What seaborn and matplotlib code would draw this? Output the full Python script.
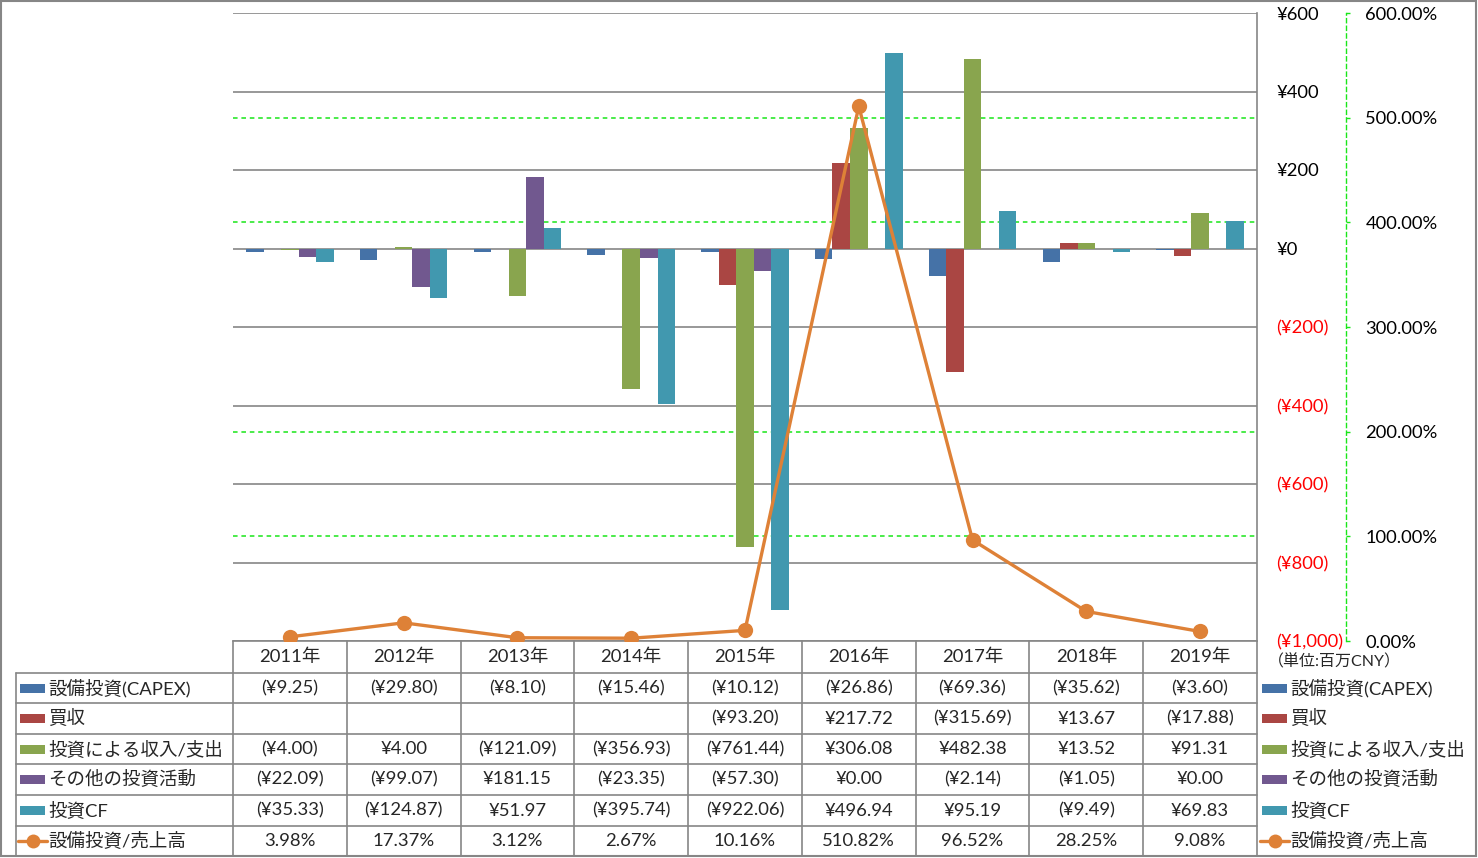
import numpy as np
import pandas as pd
import matplotlib
matplotlib.use("Agg")
import matplotlib.pyplot as plt
import matplotlib.transforms as mtrans
from matplotlib.patches import Rectangle
from matplotlib.lines import Line2D
import seaborn as sns

# ---------------- data ----------------
years = ["2011年", "2012年", "2013年", "2014年", "2015年", "2016年", "2017年", "2018年", "2019年"]
capex = [-9.25, -29.80, -8.10, -15.46, -10.12, -26.86, -69.36, -35.62, -3.60]
acquisition = [np.nan, np.nan, np.nan, np.nan, -93.20, 217.72, -315.69, 13.67, -17.88]
invest_income = [-4.00, 4.00, -121.09, -356.93, -761.44, 306.08, 482.38, 13.52, 91.31]
other_invest = [-22.09, -99.07, 181.15, -23.35, -57.30, 0.00, -2.14, -1.05, 0.00]
invest_cf = [-35.33, -124.87, 51.97, -395.74, -922.06, 496.94, 95.19, -9.49, 69.83]
capex_ratio = [3.98, 17.37, 3.12, 2.67, 10.16, 510.82, 96.52, 28.25, 9.08]

series_names = ["設備投資(CAPEX)", "買収", "投資による収入/支出", "その他の投資活動", "投資CF"]
line_name = "設備投資/売上高"
unit_label = "（単位:百万CNY）"
yen_ticks = [600, 400, 200, 0, -200, -400, -600, -800, -1000]
pct_ticks = [0, 100, 200, 300, 400, 500, 600]
pct_grid = [100, 200, 400, 500]   # 300% / 600% fall on primary gridlines

colors = ["#4572A7", "#AA4643", "#89A54E", "#71588F", "#4198AF"]
orange = "#DE8137"
grid_gray = "#868686"
green = "#19E619"

# ---------------- style ----------------
sns.set_style("white")
plt.rcParams["font.family"] = ["Lato", "Noto Sans CJK JP", "DejaVu Sans"]
FS = 13.3
FS_TICK = 13.2

W, H = 1478, 858
fig = plt.figure(figsize=(W / 100, H / 100), dpi=100)


def fx(px):
    return px / W


def fy(py):
    return 1 - py / H


ax = fig.add_axes([fx(233), fy(641), fx(1257) - fx(233), fy(13) - fy(641)])
ax2 = ax.twinx()

# bars
all_series = [capex, acquisition, invest_income, other_invest, invest_cf]
records = []
for name, vals in zip(series_names, all_series):
    for yr, v in zip(years, vals):
        records.append((yr, name, v))
df = pd.DataFrame(records, columns=["year", "series", "value"])

sns.barplot(data=df, x="year", y="value", hue="series", order=years,
            hue_order=series_names, palette=colors, width=0.77, gap=0,
            saturation=1, errorbar=None, legend=False, ax=ax,
            linewidth=0, zorder=2)

# line on secondary axis
sns.pointplot(x=years, y=capex_ratio, order=years, ax=ax2, color=orange,
              markers="o", markersize=11, linewidth=2.4, errorbar=None)
for ln in ax2.lines:
    ln.set_markeredgewidth(0)
    ln.set_zorder(3)

ax.set_xlim(-0.5, len(years) - 0.5)
ax2.set_xlim(-0.5, len(years) - 0.5)

# primary axis
ax.set_ylim(-1000, 600)
ax.set_yticks(yen_ticks)
ax.set_yticklabels([f"¥{v:,}" if v >= 0 else f"(¥{abs(v):,})" for v in yen_ticks])
ax.yaxis.tick_right()
ax.tick_params(axis="y", length=0, pad=14, labelsize=FS_TICK)
for lbl, v in zip(ax.get_yticklabels(), yen_ticks):
    lbl.set_color("red" if v < 0 else "black")
    lbl.set_ha("left")
ax.set_xticks(range(len(years)))
ax.tick_params(axis="x", length=0, labelbottom=False)
ax.set_xlabel("")
ax.set_ylabel("")
ax.grid(axis="y", color=grid_gray, lw=1.2, ls="-")
ax.grid(axis="x", visible=False)
ax.set_axisbelow(True)
for s in ["left", "top"]:
    ax.spines[s].set_visible(False)
for s in ["right", "bottom"]:
    ax.spines[s].set_color(grid_gray)
    ax.spines[s].set_linewidth(1.2)

# secondary axis
ax2.set_ylim(0, 600)
ax2.set_yticks(pct_ticks)
ax2.set_yticklabels([f"{v:.2f}%" for v in pct_ticks])
ax2.tick_params(axis="y", length=3, width=1, color=green, direction="out",
                pad=11, labelsize=FS_TICK, labelcolor="black")
ax2.set_xlabel("")
ax2.set_ylabel("")
ax2.grid(False)
for s in ["left", "top", "bottom"]:
    ax2.spines[s].set_visible(False)
ax2.spines["right"].set_position(("outward", 64))
ax2.spines["right"].set_color(green)
ax2.spines["right"].set_linestyle((0, (3, 2.5)))
ax2.spines["right"].set_linewidth(1)

# secondary gridlines drawn behind bars
trans_g = mtrans.blended_transform_factory(ax.transAxes, ax2.transData)
for v in pct_grid:
    ax.add_line(Line2D([0, 1], [v, v], transform=trans_g, color=green,
                       lw=1.1, ls=(0, (3, 2.5)), zorder=0.4))

# ---------------- data table ----------------
row_edges = [641, 673, 703, 734, 764, 795, 826, 856]
tr = mtrans.blended_transform_factory(ax.transData, fig.transFigure)

for y in row_edges[1:-1]:
    fig.add_artist(Line2D([fx(16), fx(1257)], [fy(y), fy(y)], transform=fig.transFigure,
                          color=grid_gray, lw=1.2))
for i in range(len(years) + 1):
    fig.add_artist(Line2D([i - 0.5, i - 0.5], [fy(641), fy(856)], transform=tr,
                          color=grid_gray, lw=1.2))
fig.add_artist(Line2D([fx(16), fx(16)], [fy(673), fy(856)], transform=fig.transFigure,
                      color=grid_gray, lw=1.2))


def fmt_yen(v):
    if v is None or (isinstance(v, float) and np.isnan(v)):
        return ""
    if v < 0:
        return f"(¥{abs(v):,.2f})"
    return f"¥{v:,.2f}"


centers = [(row_edges[k] + row_edges[k + 1]) / 2 for k in range(len(row_edges) - 1)]
for i, yr in enumerate(years):
    fig.text(i, fy(centers[0]), yr, transform=tr, ha="center", va="center", fontsize=FS)
for r, vals in enumerate(all_series):
    for i, v in enumerate(vals):
        fig.text(i, fy(centers[r + 1]), fmt_yen(v), transform=tr, ha="center",
                 va="center", fontsize=FS)
for i, v in enumerate(capex_ratio):
    fig.text(i, fy(centers[6]), f"{v:.2f}%", transform=tr, ha="center", va="center",
             fontsize=FS)


def legend_key(x0, yc, kind, color):
    if kind == "bar":
        fig.add_artist(Rectangle((fx(x0), fy(yc + 4.5)), 25 / W, 9 / H, transform=fig.transFigure,
                                 facecolor=color, edgecolor="none"))
    else:
        fig.add_artist(Line2D([fx(x0 - 2), fx(x0 + 27)], [fy(yc), fy(yc)], transform=fig.transFigure,
                              color=color, lw=2.4, marker=None))
        fig.add_artist(Line2D([fx(x0 + 12.5)], [fy(yc)], transform=fig.transFigure,
                              color=color, marker="o", markersize=10, markeredgewidth=0, ls="none"))


labels_all = series_names + [line_name]
for k, name in enumerate(labels_all):
    yc = centers[k + 1]
    kind = "bar" if k < 5 else "line"
    col = colors[k] if k < 5 else orange
    legend_key(20, yc, kind, col)
    fig.text(fx(48), fy(yc), name, ha="left", va="center", fontsize=FS)
    legend_key(1262, yc, kind, col)
    fig.text(fx(1290), fy(yc), name, ha="left", va="center", fontsize=FS)

fig.text(fx(1268), fy(662), unit_label, ha="left", va="center", fontsize=FS - 1.8)

# outer border
fig.add_artist(Rectangle((fx(1), fy(856)), fx(1475), 855 / H, transform=fig.transFigure,
                         fill=False, edgecolor=grid_gray, lw=1.5))

fig.savefig("out.png", dpi=100)
